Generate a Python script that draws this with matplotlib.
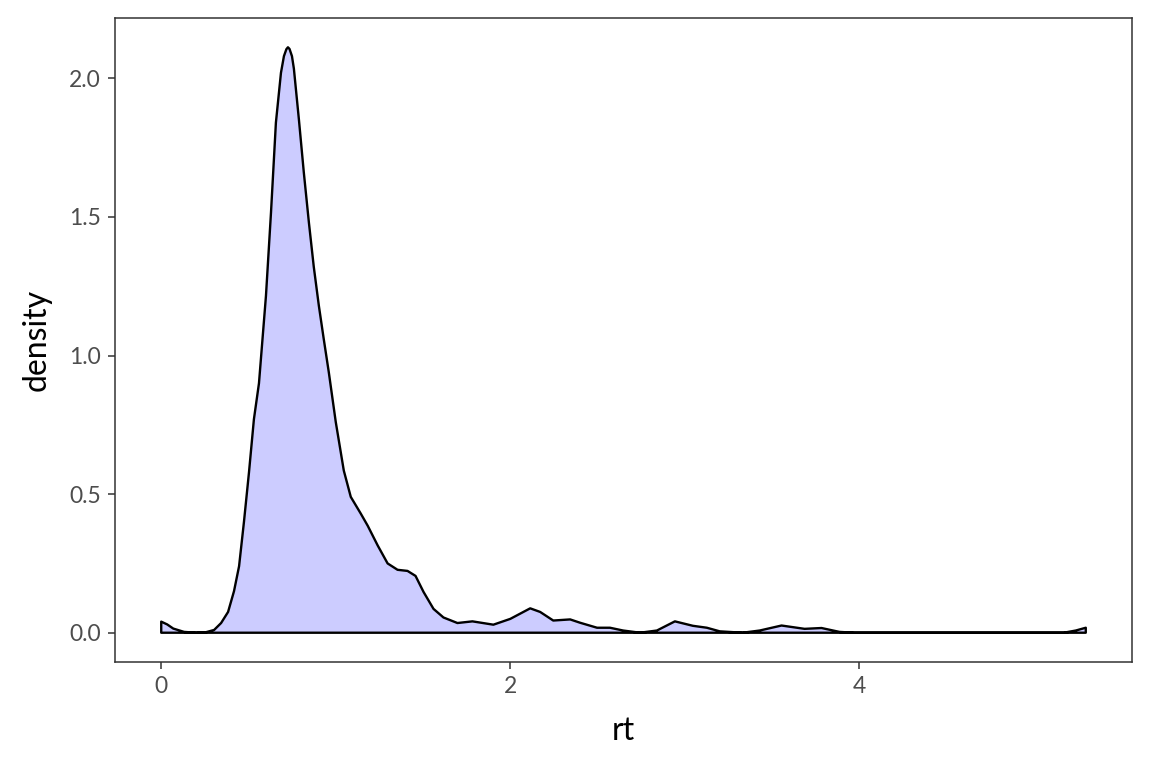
import matplotlib
matplotlib.use("Agg")
import matplotlib.pyplot as plt

rt = [0.000, 0.034, 0.069, 0.131, 0.200, 0.257, 0.303, 0.343, 0.383, 0.417,
      0.446, 0.474, 0.503, 0.531, 0.560, 0.600, 0.629, 0.657, 0.686, 0.703,
      0.717, 0.726, 0.735, 0.749, 0.760, 0.789, 0.817, 0.846, 0.874, 0.903,
      0.931, 0.960, 1.000, 1.046, 1.086, 1.143, 1.183, 1.240, 1.297, 1.354,
      1.411, 1.457, 1.503, 1.560, 1.617, 1.697, 1.783, 1.903, 2.000, 2.114,
      2.171, 2.246, 2.343, 2.400, 2.497, 2.571, 2.646, 2.743, 2.840, 2.943,
      3.046, 3.126, 3.200, 3.331, 3.429, 3.554, 3.686, 3.783, 3.886, 3.971,
      5.171, 5.240, 5.297]
density = [0.040, 0.030, 0.015, 0.003, 0.000, 0.002, 0.010, 0.035, 0.075, 0.150,
           0.240, 0.400, 0.580, 0.770, 0.900, 1.215, 1.517, 1.840, 2.020, 2.080,
           2.105, 2.112, 2.106, 2.080, 2.035, 1.850, 1.660, 1.480, 1.320, 1.180,
           1.060, 0.940, 0.760, 0.585, 0.490, 0.430, 0.386, 0.315, 0.250, 0.227,
           0.223, 0.205, 0.147, 0.086, 0.055, 0.035, 0.041, 0.029, 0.050, 0.088,
           0.075, 0.044, 0.048, 0.036, 0.018, 0.018, 0.008, 0.000, 0.008, 0.041,
           0.025, 0.018, 0.005, 0.000, 0.008, 0.026, 0.014, 0.017, 0.003, 0.000,
           0.000, 0.008, 0.018]
x_ticks = [0, 2, 4]
y_ticks = [0.0, 0.5, 1.0, 1.5, 2.0]

plt.rcParams['font.family'] = ['Lato', 'DejaVu Sans']

fig = plt.figure(figsize=(11.52, 7.68), dpi=100)
ax = fig.add_axes([115/1152, 1 - 662/768, (1132-115)/1152, (662-18)/768])

xs = [rt[0]] + rt + [rt[-1]]
ys = [0.0] + density + [0.0]
ax.fill(xs, ys, facecolor='#CCCCFF', edgecolor='black', linewidth=1.7,
        joinstyle='round')

xr = rt[-1] - rt[0]
ax.set_xlim(rt[0] - 0.05 * xr, rt[-1] + 0.05 * xr)
yr = max(density)
ax.set_ylim(-0.05 * yr, yr * 1.05)

ax.set_xticks(x_ticks)
ax.set_xticklabels([str(t) for t in x_ticks])
ax.set_yticks(y_ticks)
ax.set_yticklabels([f"{t:.1f}" for t in y_ticks])

ax.tick_params(axis='both', colors='#333333', labelcolor='#4D4D4D',
               labelsize=16.5, length=5, width=1.1, pad=5)
for s in ax.spines.values():
    s.set_color('#333333')
    s.set_linewidth(1.1)

ax.set_xlabel('rt', fontsize=23, labelpad=14)
ax.set_ylabel('density', fontsize=23, labelpad=13)

fig.savefig('out.png', dpi=100)
